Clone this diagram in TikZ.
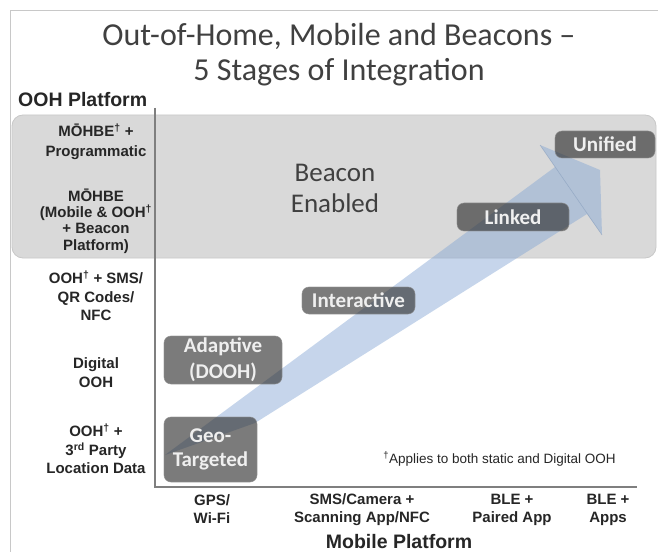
\documentclass[tikz,border=0pt]{standalone}
\usepackage{fontspec}
\setmainfont{Liberation Sans}
\newfontfamily\calibri{Carlito}
\definecolor{bandblue}{HTML}{81A4D3}
\definecolor{txtdark}{HTML}{262626}
\definecolor{titlegray}{HTML}{404040}
\definecolor{framegray}{HTML}{C8C8C8}
\definecolor{zonegray}{HTML}{D9D9D9}
\definecolor{axisgray}{HTML}{7F7F7F}
\definecolor{boxfill}{HTML}{2A2A2A}
\definecolor{boxtext}{HTML}{EFEFEF}
\begin{document}
\begin{tikzpicture}[x=1bp,y=-1bp,
  lbl/.style={font=\bfseries\fontsize{15bp}{18.5bp}\selectfont, text=txtdark, align=center, inner sep=0pt},
  axlbl/.style={font=\bfseries\fontsize{19.5bp}{22bp}\selectfont, text=txtdark, inner sep=0pt},
  stagebox/.style={rounded corners=7bp, fill=boxfill, fill opacity=0.62, draw=white!55!black, draw opacity=0.7, line width=0.6bp,
     text opacity=1, text=boxtext, align=center, inner sep=0pt,
     font=\calibri\bfseries\fontsize{21bp}{25bp}\selectfont},
  axisline/.style={draw=axisgray, line width=2.5bp}
]
\useasboundingbox (0,0) rectangle (658,552);
\fill[white] (0,0) rectangle (658,552);
% frame
\draw[framegray, line width=1bp] (10,552) -- (10,11) -- (658,11);
% title
\node[font=\calibri\fontsize{32bp}{35bp}\selectfont, text=titlegray, align=center, inner sep=0pt] (title) at (339,55) {Out-of-Home, Mobile and Beacons –\\5 Stages of Integration};
% beacon zone
\draw[fill=zonegray, draw=framegray, line width=0.8bp, rounded corners=11bp] (12,115) rectangle (656,258);
% arrow band
\fill[bandblue, fill opacity=0.45] (165,455) -- (555,167) -- (540,145) -- (600,170) -- (602,235) -- (587,214) -- (255,423) -- cycle;
\draw[bandblue!80!black, draw opacity=0.35, line width=0.6bp] (540,145) -- (602,235);
% axes
\coordinate (ytop) at (155,108);
\coordinate (orig) at (155,487);
\coordinate (xend) at (637,487);
\draw[axisline] (ytop) -- (orig) -- (xend);
% axis titles
\node[axlbl, anchor=west] (ooh) at (18,100) {OOH Platform};
\node[axlbl] (mob) at (399,541.5) {Mobile Platform};
% y labels
\node[lbl, font=\bfseries\fontsize{15bp}{20bp}\selectfont] (y5) at (96,141.5) {MŌHBE\textsuperscript{†} +\\Programmatic};
\node[lbl, font=\bfseries\fontsize{15bp}{16.4bp}\selectfont] (y4) at (96,221) {MŌHBE\\(Mobile \& OOH\textsuperscript{†}\\+ Beacon\\Platform)};
\node[lbl] (y3) at (96,296) {OOH\textsuperscript{†} + SMS/\\QR Codes/\\NFC};
\node[lbl] (y2) at (96,372.5) {Digital\\OOH};
\node[lbl] (y1) at (96,449) {OOH\textsuperscript{†} +\\3\textsuperscript{rd} Party\\Location Data};
% x labels
\node[lbl, font=\bfseries\fontsize{15bp}{18bp}\selectfont] (x1) at (212,509.5) {GPS/\\Wi-Fi};
\node[lbl, font=\bfseries\fontsize{15bp}{18bp}\selectfont] (x2) at (362,509.5) {SMS/Camera +\\Scanning App/NFC};
\node[lbl, font=\bfseries\fontsize{15bp}{18bp}\selectfont] (x3) at (512,509.5) {BLE +\\Paired App};
\node[lbl, font=\bfseries\fontsize{15bp}{18bp}\selectfont] (x4) at (608,509.5) {BLE +\\Apps};
% beacon enabled
\node[font=\calibri\fontsize{27bp}{31bp}\selectfont, text=titlegray, align=center, inner sep=0pt] (beacon) at (335,188) {Beacon\\Enabled};
% stage boxes
\node[stagebox, minimum width=93bp, minimum height=65bp, font=\calibri\bfseries\fontsize{21bp}{24bp}\selectfont] (geo) at (210.5,449.5) {Geo-\\Targeted};
\node[stagebox, minimum width=118bp, minimum height=48bp, font=\calibri\bfseries\fontsize{21bp}{26bp}\selectfont] (adapt) at (223,360) {Adaptive\\(DOOH)};
\node[stagebox, minimum width=113bp, minimum height=27bp] (inter) at (358.5,300.5) {Interactive};
\node[stagebox, minimum width=112bp, minimum height=28bp] (linked) at (513,217) {Linked};
\node[stagebox, minimum width=100bp, minimum height=27bp] (unified) at (605,144.5) {Unified};
% footnote
\node[font=\fontsize{13.5bp}{15bp}\selectfont, text=txtdark, inner sep=0pt] (note) at (499.5,459) {\textsuperscript{†}Applies to both static and Digital OOH};
\end{tikzpicture}
\end{document}
